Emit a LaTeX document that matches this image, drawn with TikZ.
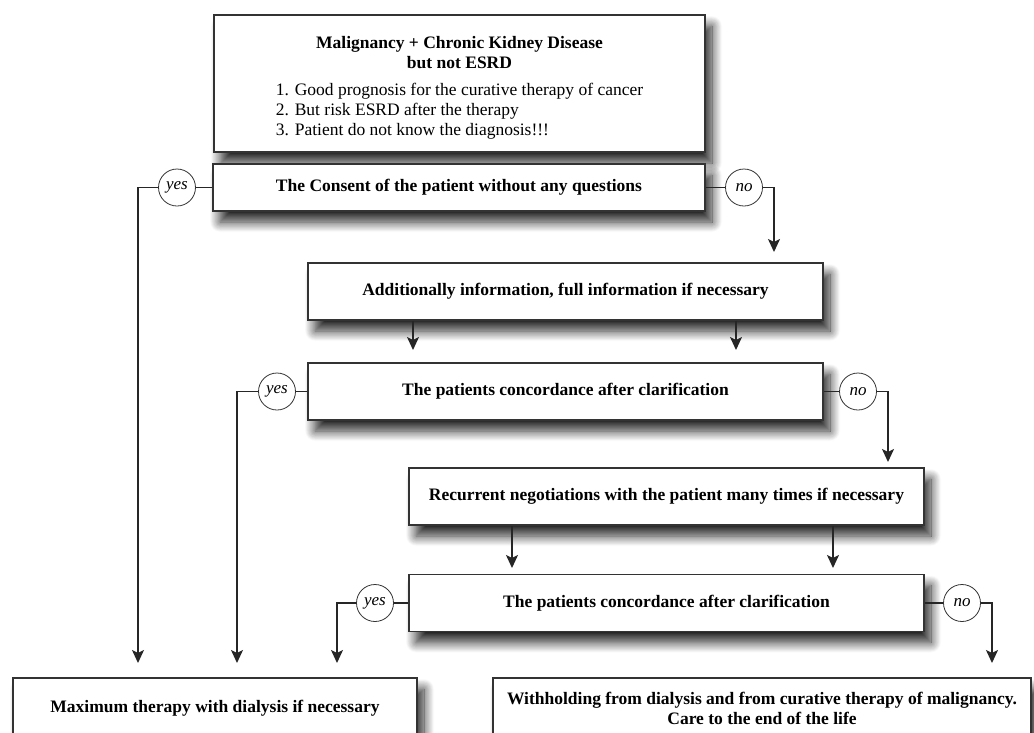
\documentclass[tikz,border=0pt]{standalone}
\usepackage{fontspec}
\setmainfont{Liberation Serif}
\usetikzlibrary{arrows.meta,shadows.blur}
\begin{document}
\begin{tikzpicture}[x=1pt,y=-1pt,
  box/.style={draw=black!80, line width=1.1pt, fill=white, rectangle, inner sep=0pt, align=center,
    font=\fontsize{17.5}{20}\selectfont\bfseries,
    blur shadow={shadow xshift=7pt, shadow yshift=-11pt, shadow blur radius=10pt, shadow blur steps=14, shadow opacity=85}},
  yn/.style={draw=black!80, line width=0.8pt, circle, fill=white, minimum size=37pt, inner sep=0pt,
    font=\fontsize{17}{20}\selectfont\itshape},
  conn/.style={line width=1.5pt, draw=black!85},
  arr/.style={conn, -{Stealth[length=13pt,width=12pt,inset=3pt]}}
]
\useasboundingbox (0,0) rectangle (1034,732);
\clip (0,0) rectangle (1034,732);

% boxes
\node[box, minimum width=491pt, minimum height=137pt] (b1) at (459.5,83.5)
  {\begin{tabular}{@{}c@{}}\rule{0pt}{22pt}Malignancy + Chronic Kidney Disease\\ but not ESRD\\[7pt]
   \mdseries\begin{tabular}{@{}l@{}}1. Good prognosis for the curative therapy of cancer\\
   2. But risk ESRD after the therapy\\ 3. Patient do not know the diagnosis!!!\end{tabular}\end{tabular}};
\node[box, minimum width=492pt, minimum height=47pt] (b2) at (459,187.5) {The Consent of the patient without any questions};
\node[box, minimum width=515pt, minimum height=57pt] (b3) at (565.5,291.5) {Additionally information, full information if necessary};
\node[box, minimum width=515pt, minimum height=57pt] (b4) at (565.5,391.5) {The patients concordance after clarification};
\node[box, minimum width=515pt, minimum height=57pt] (b5) at (666.5,496.5) {Recurrent negotiations with the patient many times if necessary};
\node[box, minimum width=515pt, minimum height=57pt] (b6) at (666.5,603) {The patients concordance after clarification};
\node[box, minimum width=404pt, minimum height=60pt] (b7) at (215,708) {Maximum therapy with dialysis if necessary};
\node[box, minimum width=538pt, minimum height=60pt] (b8) at (762,708) {Withholding from dialysis and from curative therapy of malignancy.\\ Care to the end of the life};

% yes / no circles
\node[yn] (y1) at (177,187.5) {yes};
\node[yn] (n1) at (744,187.5) {no};
\node[yn] (y2) at (277,391.5) {yes};
\node[yn] (n2) at (858,391.5) {no};
\node[yn] (y3) at (375,603) {yes};
\node[yn] (n3) at (962,603) {no};

% arrow end points
\coordinate (t1) at (138,663);
\coordinate (t2) at (237,663);
\coordinate (t3) at (337,663);
\coordinate (t4) at (992,663);
\coordinate (tn1) at (774,252);
\coordinate (tn2) at (888,462);
\coordinate (a1) at (413,350);
\coordinate (a2) at (736,350);
\coordinate (a3) at (512,568);
\coordinate (a4) at (833,568);

% connectors
\draw[conn] (b2.west) -- (y1.east);
\draw[arr] (y1.west) -| (t1);
\draw[conn] (b2.east) -- (n1.west);
\draw[arr] (n1.east) -| (tn1);

\draw[arr] (b3.south -| a1) -- (a1);
\draw[arr] (b3.south -| a2) -- (a2);

\draw[conn] (b4.west) -- (y2.east);
\draw[arr] (y2.west) -| (t2);
\draw[conn] (b4.east) -- (n2.west);
\draw[arr] (n2.east) -| (tn2);

\draw[arr] (b5.south -| a3) -- (a3);
\draw[arr] (b5.south -| a4) -- (a4);

\draw[conn] (b6.west) -- (y3.east);
\draw[arr] (y3.west) -| (t3);
\draw[conn] (b6.east) -- (n3.west);
\draw[arr] (n3.east) -| (t4);
\end{tikzpicture}
\end{document}
